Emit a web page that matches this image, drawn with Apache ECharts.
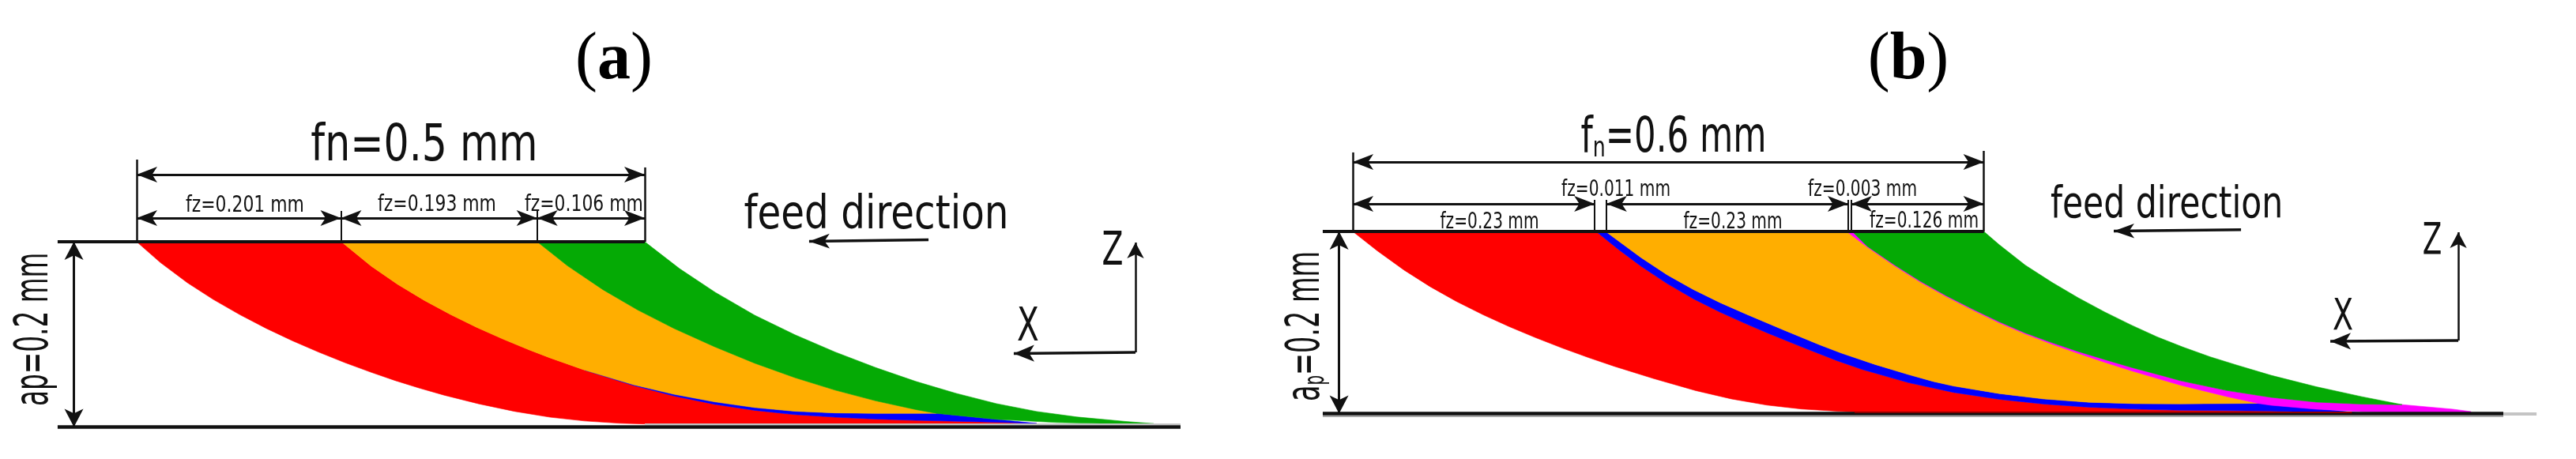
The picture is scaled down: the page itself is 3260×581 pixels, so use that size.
<!DOCTYPE html>
<html>
<head>
<meta charset="utf-8">
<title>Cut sections</title>
<script src="https://cdn.jsdelivr.net/npm/echarts@6/dist/echarts.min.js"></script>
<style>
html, body { margin: 0; padding: 0; background: #fff; }
#chart { width: 3260px; height: 581px; }
</style>
</head>
<body>
<div id="chart"></div>
<script>
// all curves are [x mm, height above the finished surface mm]

// panel (a)
const aFeedPerTooth = [0.201, 0.193, 0.106];
const aCut0 = [[0,0.2],[0.0233,0.1776],[0.05,0.1557],[0.0754,0.1377],[0.1015,0.1213],[0.1275,0.1065],[0.1531,0.0932],[0.1788,0.081],[0.2049,0.0695],[0.2309,0.059],[0.2543,0.0502],[0.2776,0.0422],[0.3025,0.0344],[0.3367,0.025],[0.3717,0.0169],[0.4067,0.0106],[0.4409,0.0065],[0.4759,0.004],[0.5086,0.003],[0.8857,0.003]];
const aCut1 = [[0.2014,0.2],[0.2309,0.1737],[0.2566,0.1542],[0.283,0.1368],[0.3087,0.1216],[0.3344,0.1077],[0.3608,0.0948],[0.3865,0.0832],[0.4067,0.0747],[0.4409,0.0614],[0.4759,0.0492],[0.4891,0.0448],[0.5288,0.0335],[0.5684,0.0246],[0.6081,0.018],[0.6477,0.0134],[0.6874,0.0106],[0.7271,0.0086],[0.7667,0.0072],[0.8064,0.0062],[0.846,0.0052],[0.8857,0.0038]];
const aBlueTop = [[0.4409,0.0614],[0.4891,0.0456],[0.5288,0.0353],[0.5684,0.0272],[0.6081,0.021],[0.6477,0.017],[0.6874,0.0152],[0.7271,0.0147],[0.7869,0.0148]];
const aCut2 = [[0.3942,0.2],[0.4238,0.1742],[0.4588,0.1483],[0.493,0.1264],[0.5288,0.1064],[0.5684,0.0868],[0.6081,0.0689],[0.6477,0.0533],[0.6874,0.0398],[0.7271,0.0283],[0.7667,0.0188],[0.7869,0.0148],[0.846,0.0082],[0.9059,0.0048],[0.965,0.0034]];
const aCut3 = [[0.5,0.2],[0.5342,0.171],[0.5692,0.1455],[0.6081,0.1207],[0.6477,0.0996],[0.6874,0.0809],[0.7271,0.0642],[0.7667,0.0492],[0.8064,0.0363],[0.846,0.0252],[0.8857,0.0167],[0.9253,0.0108],[0.9728,0.006],[1.0008,0.0036]];

// panel (b)
const bFeedPerTooth = [0.23, 0.011, 0.23, 0.003, 0.126];
const bCut0 = [[0,0.2],[0.0233,0.1788],[0.0488,0.1576],[0.0736,0.1394],[0.0984,0.1233],[0.124,0.1085],[0.1488,0.0955],[0.1736,0.0835],[0.1991,0.072],[0.2239,0.0616],[0.2487,0.0519],[0.2862,0.0384],[0.3261,0.0252],[0.3599,0.0161],[0.3937,0.0093],[0.4267,0.005],[0.4606,0.0026],[0.4771,0.0018],[0.9594,0.0006]];
const bCut1 = [[0.2314,0.2],[0.2525,0.1804],[0.274,0.1619],[0.299,0.1427],[0.3238,0.1261],[0.3494,0.1113],[0.3742,0.0984],[0.3937,0.0888],[0.4267,0.0733],[0.4606,0.058],[0.4846,0.0484],[0.5282,0.034],[0.571,0.0233],[0.6146,0.0157],[0.6574,0.0104],[0.7002,0.007],[0.7438,0.0049],[0.7866,0.0036],[0.873,0.0028],[0.9159,0.0015],[0.9594,0.0006]];
const bBlueTop = [[0.2404,0.2],[0.274,0.1714],[0.299,0.1524],[0.3238,0.1363],[0.3494,0.1218],[0.3742,0.1092],[0.4102,0.0916],[0.444,0.0755],[0.4643,0.0665],[0.4962,0.0541],[0.5282,0.0429],[0.5522,0.0352],[0.571,0.0303],[0.6146,0.022],[0.6574,0.016],[0.7002,0.0124],[0.7438,0.0109],[0.7866,0.0107],[0.8603,0.0112]];
const bCut2 = [[0.4696,0.2],[0.4891,0.1829],[0.5147,0.1625],[0.5394,0.1445],[0.5642,0.1285],[0.5898,0.1134],[0.6146,0.0996],[0.6394,0.0874],[0.6649,0.0762],[0.6897,0.0661],[0.7145,0.0565],[0.74,0.0471],[0.7701,0.0368],[0.7866,0.0313],[0.8302,0.0189],[0.8603,0.0112],[0.873,0.0091],[0.9159,0.0048],[0.9594,0.0022],[1.0023,0.0012],[1.0631,0.0012]];
const bMagentaTop = [[0.4748,0.2],[0.4891,0.1838],[0.5147,0.1635],[0.5394,0.1455],[0.5642,0.1295],[0.5898,0.1145],[0.6146,0.1008],[0.6394,0.0886],[0.6649,0.0778],[0.6897,0.0682],[0.7145,0.0595],[0.74,0.0508],[0.7701,0.0415],[0.7866,0.0362],[0.8302,0.0255],[0.873,0.0178],[0.9159,0.0126],[0.9594,0.0104],[0.9977,0.0098]];
const bMagentaTail = [[1.0458,0.0048],[1.0631,0.0022]];
const bCut3 = [[0.6,0.2],[0.6146,0.1855],[0.6394,0.163],[0.6649,0.144],[0.6897,0.1272],[0.7145,0.1118],[0.74,0.0973],[0.7648,0.0842],[0.7896,0.0729],[0.8152,0.0623],[0.84,0.0534],[0.873,0.042],[0.9159,0.0295],[0.9594,0.0185],[0.9977,0.0098]];

const RED = '#ff0000', ORANGE = '#ffae00', GREEN = '#05aa05', BLUE = '#0000ff', MAGENTA = '#ff00ff';
const INK = '#111111';
const FONT = 'DejaVu Sans';

function rev(a) { return a.slice().reverse(); }

// one filled band between two boundaries
function band(name, idx, left, right, color) {
  const pts = left.concat(rev(right));
  return {
    type: 'custom', name: name, xAxisIndex: idx, yAxisIndex: idx, z: 2, clip: false,
    data: pts,
    encode: { x: 0, y: 1 },
    renderItem: function (params, api) {
      if (params.dataIndex !== 0) return null;
      return {
        type: 'polygon',
        shape: { points: pts.map(function (p) { return api.coord(p); }) },
        style: { fill: color, stroke: color, lineWidth: 0.6 }
      };
    }
  };
}

function seg(x1, y1, x2, y2, w, c) {
  return [{ coord: [x1, y1], lineStyle: { width: w, color: c || INK, type: 'solid' } }, { coord: [x2, y2] }];
}
function arrow2(x1, y1, x2, y2, w, size) {
  return [
    { coord: [x1, y1], symbol: 'arrow', symbolSize: size, lineStyle: { width: w, color: INK, type: 'solid' } },
    { coord: [x2, y2], symbol: 'arrow', symbolSize: size }
  ];
}
function arrow1(x1, y1, x2, y2, w, size) {
  return [
    { coord: [x1, y1], symbol: 'none', lineStyle: { width: w, color: INK, type: 'solid' } },
    { coord: [x2, y2], symbol: 'arrow', symbolSize: size }
  ];
}

function edges(feed) {
  const out = [0];
  feed.forEach(function (f) { out.push(Math.round((out[out.length - 1] + f) * 1000) / 1000); });
  return out;
}

// lines, dimension arrows and the text of one panel
function overlay(idx, lines, labels) {
  return {
    type: 'custom', name: 'notes', xAxisIndex: idx, yAxisIndex: idx, z: 5, clip: false, silent: true,
    data: labels.map(function (l) { return [l.x, l.y]; }),
    encode: { x: 0, y: 1 },
    renderItem: function (params, api) {
      const l = labels[params.dataIndex];
      const p = api.coord([l.x, l.y]);
      const rot = l.rot || 0;
      // canvas "middle" sits above the middle of the digits
      const nudge = l.size * 0.1;
      const style = {
        text: l.text, fontFamily: FONT, fontSize: l.size, fill: INK,
        align: 'center', verticalAlign: 'middle'
      };
      if (l.rich) style.rich = l.rich;
      return {
        type: 'text',
        x: p[0] + Math.sin(rot) * nudge,
        y: p[1] + Math.cos(rot) * nudge,
        scaleX: l.sx, rotation: rot, style: style
      };
    },
    markLine: { silent: true, animation: false, symbol: 'none', label: { show: false }, data: lines }
  };
}

const DIM = [15, 26];
const aEdges = edges(aFeedPerTooth);
const bEdges = edges(bFeedPerTooth);

const aLines = [
  seg(0.5, 0.0028, 1.0272, 0.0028, 2, '#c4c4c4'),
  seg(-0.0778, 0.2, 0.5, 0.2, 4),
  seg(-0.0778, 0, 1.0272, 0, 4.5),
  seg(0, 0.2, 0, 0.2888, 2.5),
  seg(0.5, 0.2, 0.5, 0.2803, 2.5),
  seg(aEdges[1], 0.2, aEdges[1], 0.2334, 2),
  seg(aEdges[2], 0.2, aEdges[2], 0.2334, 2),
  arrow2(0, 0.2726, 0.5, 0.2726, 3, DIM),
  arrow2(aEdges[0], 0.2257, aEdges[1], 0.2257, 3, DIM),
  arrow2(aEdges[1], 0.2257, aEdges[2], 0.2257, 3, DIM),
  arrow2(aEdges[2], 0.2257, aEdges[3], 0.2257, 3, DIM),
  arrow2(-0.0618, 0.2, -0.0618, 0, 3, [18, 23]),
  arrow1(0.7792, 0.2022, 0.6617, 0.2005, 3.5, [14, 26]),
  arrow1(0.9829, 0.0806, 0.9829, 0.1992, 2.5, [16, 20]),
  arrow1(0.9829, 0.0806, 0.8631, 0.0794, 3.5, [16, 26])
];
const aSub = { size: 29, sx: 0.755 };
const aLabels = [
  { text: 'fn=0.5 mm', x: 0.283, y: 0.3076, size: 64, sx: 0.79 },
  { text: 'fz=0.201 mm', x: 0.1065, y: 0.2415, size: aSub.size, sx: aSub.sx },
  { text: 'fz=0.193 mm', x: 0.2955, y: 0.2419, size: aSub.size, sx: aSub.sx },
  { text: 'fz=0.106 mm', x: 0.4401, y: 0.2419, size: aSub.size, sx: aSub.sx },
  { text: 'feed direction', x: 0.7278, y: 0.2325, size: 58, sx: 0.835 },
  { text: 'Z', x: 0.9603, y: 0.1933, size: 58, sx: 0.68 },
  { text: 'X', x: 0.8771, y: 0.1113, size: 58, sx: 0.7 },
  { text: 'ap=0.2 mm', x: -0.1042, y: 0.1055, size: 59, sx: 0.555, rot: Math.PI / 2 }
];

const bLines = [
  seg(-0.0286, -0.003, 1.0939, -0.003, 2, '#a8a8a8'),
  seg(-0.0286, 0, 1.0939, 0, 4.5),
  seg(0.4771, 0.0019, 0.95, 0.0019, 2, '#8b0000'),
  seg(1.0939, 0, 1.1255, 0, 4, '#c4c4c4'),
  seg(-0.0286, 0.2, 0.6, 0.2, 4),
  seg(0, 0.2, 0, 0.2869, 2.5),
  seg(0.6, 0.2, 0.6, 0.2886, 2.5),
  seg(bEdges[1], 0.2, bEdges[1], 0.2348, 2),
  seg(bEdges[2], 0.2, bEdges[2], 0.2348, 2),
  seg(bEdges[3], 0.2, bEdges[3], 0.2348, 2),
  seg(bEdges[4], 0.2, bEdges[4], 0.2348, 2),
  arrow2(0, 0.2765, 0.6, 0.2765, 3, DIM),
  arrow2(bEdges[0], 0.2305, bEdges[1], 0.2305, 3, DIM),
  arrow2(bEdges[2], 0.2305, bEdges[3], 0.2305, 3, DIM),
  arrow2(bEdges[4], 0.2305, bEdges[5], 0.2305, 3, DIM),
  arrow2(-0.0131, 0.2, -0.0131, 0, 3, [18, 23]),
  arrow1(0.8445, 0.2021, 0.7235, 0.2004, 3.5, [14, 26]),
  arrow1(1.0511, 0.0803, 1.0511, 0.1992, 2.5, [16, 20]),
  arrow1(1.0511, 0.0803, 0.9294, 0.0794, 3.5, [16, 26])
];
const bSub = { size: 28, sx: 0.72 };
const bLabels = [
  {
    text: '{b|f}{s|n}{b|=0.6 mm}', x: 0.305, y: 0.3069, size: 62, sx: 0.7,
    rich: { b: { fontFamily: FONT, fontSize: 62, fill: INK }, s: { fontFamily: FONT, fontSize: 36, fill: INK, verticalAlign: 'bottom' } }
  },
  { text: 'fz=0.23 mm', x: 0.13, y: 0.2127, size: bSub.size, sx: bSub.sx },
  { text: 'fz=0.011 mm', x: 0.2502, y: 0.2478, size: bSub.size, sx: bSub.sx },
  { text: 'fz=0.23 mm', x: 0.3614, y: 0.2127, size: bSub.size, sx: bSub.sx },
  { text: 'fz=0.003 mm', x: 0.4846, y: 0.2478, size: bSub.size, sx: bSub.sx },
  { text: 'fz=0.126 mm', x: 0.5432, y: 0.2131, size: bSub.size, sx: bSub.sx },
  { text: 'feed direction', x: 0.7739, y: 0.2331, size: 56, sx: 0.76 },
  { text: 'Z', x: 1.0263, y: 0.1931, size: 56, sx: 0.64 },
  { text: 'X', x: 0.9414, y: 0.1098, size: 56, sx: 0.68 },
  {
    text: '{b|a}{s|p}{b|=0.2 mm}', x: -0.0481, y: 0.0959, size: 59, sx: 0.567, rot: Math.PI / 2,
    rich: { b: { fontFamily: FONT, fontSize: 59, fill: INK }, s: { fontFamily: FONT, fontSize: 35, fill: INK, verticalAlign: 'bottom' } }
  }
];

function panelTitle(letter, left) {
  return {
    text: '{p|(}{l|' + letter + '}{p|)}', left: left, top: 30, textAlign: 'center',
    textStyle: {
      rich: {
        p: { fontFamily: 'Liberation Serif', fontSize: 84, fontWeight: 'normal', color: '#000' },
        l: { fontFamily: 'Liberation Serif', fontSize: 84, fontWeight: 'bold', color: '#000' }
      }
    }
  };
}

function hiddenAxis(idx, min, max) {
  return { type: 'value', gridIndex: idx, min: min, max: max, show: false, scale: true };
}

const option = {
  animation: false,
  backgroundColor: '#ffffff',
  title: [panelTitle('a', 772), panelTitle('b', 2410)],
  grid: [
    { left: 44.4, top: 153.7, width: 1478.9, height: 398.5 },
    { left: 1658.8, top: 143.3, width: 1583.9, height: 391.7 }
  ],
  xAxis: [hiddenAxis(0, -0.1, 1.05), hiddenAxis(1, -0.04, 1.15)],
  yAxis: [hiddenAxis(0, -0.01, 0.33), hiddenAxis(1, -0.01, 0.33)],
  series: [
    band('tooth 1', 0, aCut0, aCut1, RED),
    band('overlap a', 0, aCut1.slice(9), aBlueTop, BLUE),
    band('tooth 2', 0, aCut1.slice(0, 9).concat(aBlueTop), aCut2.slice(0, 12), ORANGE),
    band('tooth 3', 0, aCut2, aCut3, GREEN),
    overlay(0, aLines, aLabels),

    band('tooth 1', 1, bCut0, bCut1, RED),
    band('overlap b1', 1, bCut1, bBlueTop, BLUE),
    band('tooth 2', 1, bBlueTop, bCut2.slice(0, 16), ORANGE),
    band('overlap b2', 1, bCut2, bMagentaTop.concat(bMagentaTail), MAGENTA),
    band('tooth 3', 1, bMagentaTop, bCut3, GREEN),
    overlay(1, bLines, bLabels)
  ]
};

const chart = echarts.init(document.getElementById('chart'), null, { renderer: 'canvas' });
chart.setOption(option);
</script>
</body>
</html>
